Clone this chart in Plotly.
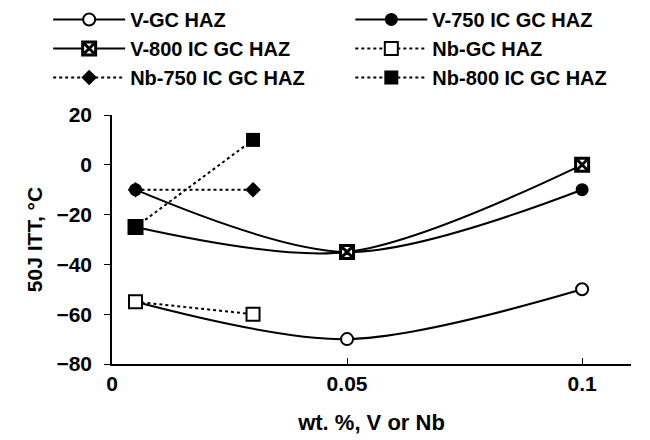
import plotly.graph_objects as go

# Data
x_v = [0.005, 0.05, 0.1]
x_nb = [0.005, 0.03]
v_gc = [-55, -70, -50]
v_750 = [-10, -35, -10]
v_800 = [-25, -35, 0]
nb_gc = [-55, -60]
nb_750 = [-10, -10]
nb_800 = [-25, 10]

x_ticks = [0, 0.05, 0.1]
x_tick_text = ["0", "0.05", "0.1"]
y_ticks = [-80, -60, -40, -20, 0, 20]

FONT = "Liberation Sans, Arial, sans-serif"
BLK = "black"

fig = go.Figure()
fig.add_trace(go.Scatter(x=x_v, y=v_gc, name="V-GC HAZ", mode="lines+markers",
                         line=dict(color=BLK, width=2, shape="spline", smoothing=0.9),
                         marker=dict(symbol="circle", size=12, color="white", line=dict(color=BLK, width=2))))
fig.add_trace(go.Scatter(x=x_v, y=v_750, name="V-750 IC GC HAZ", mode="lines+markers",
                         line=dict(color=BLK, width=2, shape="spline", smoothing=0.9),
                         marker=dict(symbol="circle", size=13, color=BLK)))
fig.add_trace(go.Scatter(x=x_v, y=v_800, name="V-800 IC GC HAZ", mode="lines+markers",
                         line=dict(color=BLK, width=2, shape="spline", smoothing=0.9),
                         marker=dict(symbol="square-x", size=13, color="white", line=dict(color=BLK, width=3))))
fig.add_trace(go.Scatter(x=x_nb, y=nb_gc, name="Nb-GC HAZ", mode="lines+markers",
                         line=dict(color=BLK, width=2, dash="dot"),
                         marker=dict(symbol="square", size=13, color="white", line=dict(color=BLK, width=2))))
fig.add_trace(go.Scatter(x=x_nb, y=nb_750, name="Nb-750 IC GC HAZ", mode="lines+markers",
                         line=dict(color=BLK, width=2, dash="dot"),
                         marker=dict(symbol="diamond", size=12, color=BLK)))
fig.add_trace(go.Scatter(x=x_nb, y=nb_800, name="Nb-800 IC GC HAZ", mode="lines+markers",
                         line=dict(color=BLK, width=2, dash="dot"),
                         marker=dict(symbol="square", size=14, color=BLK)))

fig.update_layout(
    width=650, height=440,
    margin=dict(l=104, r=27, t=107, b=84, autoexpand=False),
    paper_bgcolor="white", plot_bgcolor="white",
    font=dict(family=FONT, size=16, color=BLK),
    showlegend=True,
    legend=dict(orientation="h", x=-0.123, y=1.462, xanchor="left", yanchor="top",
                entrywidth=0.485, entrywidthmode="fraction",
                font=dict(family=FONT, size=20, color=BLK, weight="bold"),
                tracegroupgap=0, itemwidth=72, bgcolor="rgba(0,0,0,0)"),
)
fig.update_xaxes(range=[0, 0.1104], tickvals=x_ticks, ticktext=x_tick_text,
                 showline=True, linecolor=BLK, linewidth=1.5, ticks="inside", ticklen=6,
                 tickcolor=BLK, showgrid=False, zeroline=False,
                 tickfont=dict(family=FONT, size=21, color=BLK, weight="bold"),
                 title=dict(text="wt. %, V or Nb", font=dict(family=FONT, size=22, weight="bold"), standoff=21))
fig.update_yaxes(range=[-80, 20], tickvals=y_ticks,
                 showline=True, linecolor=BLK, linewidth=1.5, ticks="outside", ticklen=6,
                 tickcolor=BLK, showgrid=False, zeroline=False, ticklabelstandoff=8,
                 tickfont=dict(family=FONT, size=21, color=BLK, weight="bold"),
                 title=dict(text="50J ITT, °C", font=dict(family=FONT, size=21, weight="bold"), standoff=8))

fig.write_html("out.html")
